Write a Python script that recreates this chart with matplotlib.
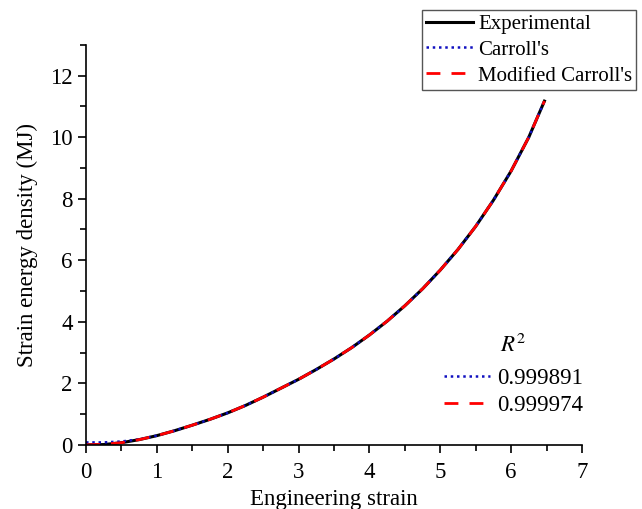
import matplotlib
matplotlib.use("Agg")
import matplotlib.pyplot as plt
from matplotlib.ticker import MultipleLocator

plt.rcParams['font.family'] = ['Liberation Serif', 'DejaVu Serif']
plt.rcParams['mathtext.fontset'] = 'stix'

# values
strain = [0, 0.25, 0.5, 0.75, 1.0, 1.25, 1.5, 1.75, 2.0, 2.25, 2.5, 2.75,
          3.0, 3.25, 3.5, 3.75, 4.0, 4.25, 4.5, 4.75, 5.0, 5.25, 5.5, 5.75,
          6.0, 6.25, 6.47]
experimental = [0, 0.01, 0.07, 0.17, 0.30, 0.46, 0.64, 0.83, 1.04, 1.28,
                1.55, 1.84, 2.13, 2.45, 2.79, 3.16, 3.57, 4.02, 4.52, 5.07,
                5.68, 6.35, 7.10, 7.95, 8.90, 10.00, 11.17]
carroll = [0.08, 0.08, 0.11, 0.18, 0.30, 0.46, 0.64, 0.83, 1.04, 1.28,
           1.55, 1.84, 2.13, 2.45, 2.79, 3.16, 3.57, 4.02, 4.52, 5.07,
           5.68, 6.35, 7.10, 7.95, 8.90, 10.00, 11.17]
modified = [0, 0.02, 0.07, 0.17, 0.30, 0.46, 0.64, 0.83, 1.04, 1.28,
            1.55, 1.84, 2.13, 2.45, 2.79, 3.16, 3.57, 4.02, 4.52, 5.07,
            5.68, 6.35, 7.10, 7.95, 8.90, 10.00, 11.17]
r2_labels = ["0.999891", "0.999974"]

fig = plt.figure(figsize=(6.42, 5.09), dpi=100)
ax = fig.add_axes([0.134, 0.126, 0.7725, 0.786])

l_exp, = ax.plot(strain, experimental, color='black', lw=2.2,
                 label='Experimental')
l_car, = ax.plot(strain, carroll, color='#1010c0', lw=1.8, ls=(0, (1, 1.5)),
                 label="Carroll's")
l_mod, = ax.plot(strain, modified, color='#ff0000', lw=2.0, ls=(0, (5, 4)),
                 label="Modified Carroll's")

ax.set_xlim(0, 7)
ax.set_ylim(0, 13)
ax.xaxis.set_major_locator(MultipleLocator(1))
ax.xaxis.set_minor_locator(MultipleLocator(0.5))
ax.yaxis.set_major_locator(MultipleLocator(2))
ax.yaxis.set_minor_locator(MultipleLocator(1))
ax.spines['top'].set_visible(False)
ax.spines['right'].set_visible(False)
for s in ['left', 'bottom']:
    ax.spines[s].set_linewidth(1.2)
ax.tick_params(which='major', direction='out', length=6, width=1.2,
               labelsize=16.5)
ax.tick_params(axis='x', which='major', pad=6)
ax.tick_params(which='minor', direction='out', length=4, width=1.2)
ax.set_xlabel('Engineering strain', fontsize=16.5, labelpad=5)
ax.set_ylabel('Strain energy density (MJ)', fontsize=16.5, labelpad=9)

leg1 = fig.legend(handles=[l_exp, l_car, l_mod], loc='upper right',
                  bbox_to_anchor=(0.991, 0.980), fontsize=15,
                  fancybox=False, framealpha=1, edgecolor='#555555',
                  borderaxespad=0, handlelength=2.25, handletextpad=0.25,
                  borderpad=0.2, labelspacing=0.3)
leg1.get_frame().set_linewidth(1.0)

h_car, = ax.plot([], [], color='#1010c0', lw=1.8, ls=(0, (1, 1.5)))
h_mod, = ax.plot([], [], color='#ff0000', lw=2.0, ls=(0, (5, 4)))
leg2 = ax.legend(handles=[h_car, h_mod], labels=r2_labels, loc='lower right',
                 bbox_to_anchor=(1.02, 0.05), fontsize=16.5, frameon=False,
                 title='$R^2$', title_fontsize=16.5, handlelength=2.0,
                 handletextpad=0.3, labelspacing=0.25, borderaxespad=0)
leg2._legend_box.align = 'center'
leg2._legend_box.sep = 8

fig.savefig('out.png', dpi=100)
